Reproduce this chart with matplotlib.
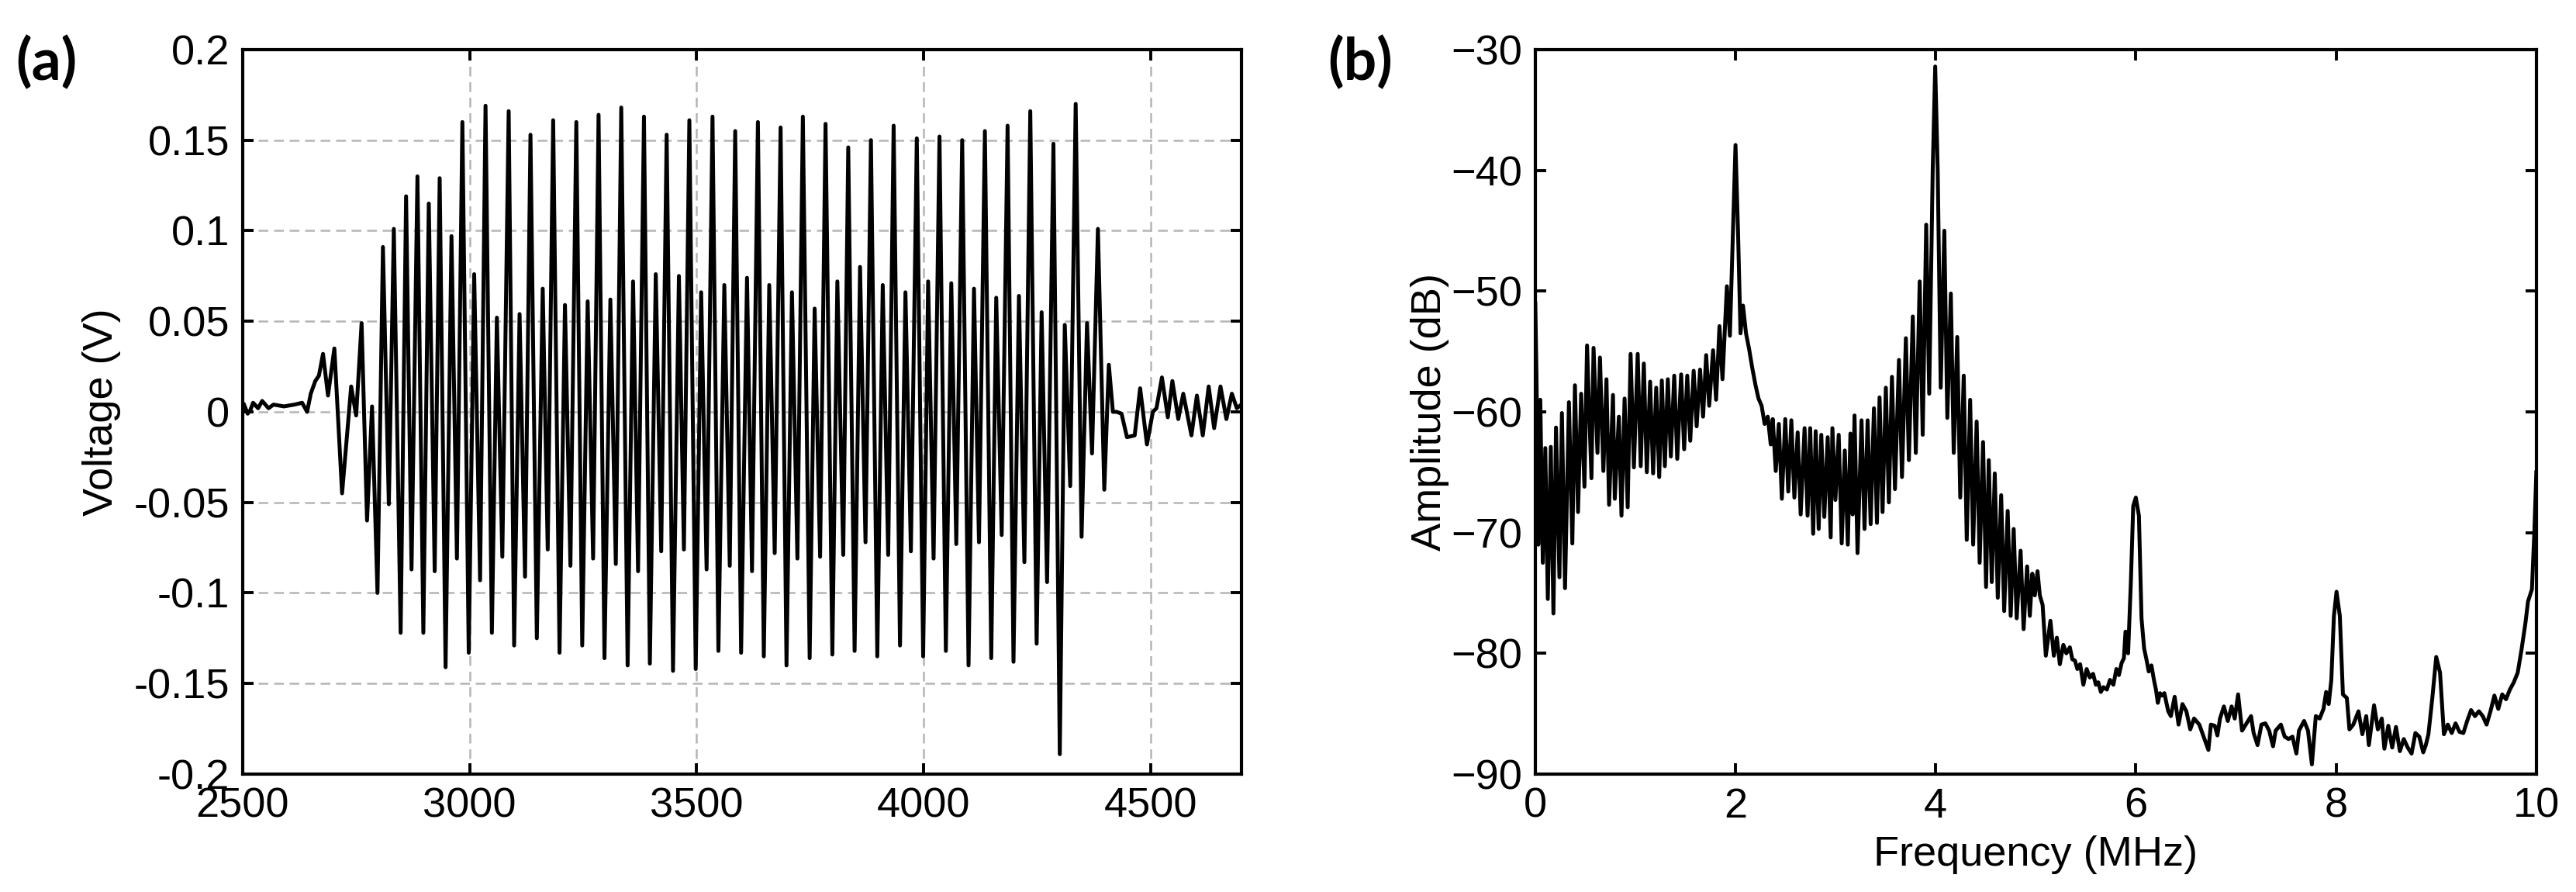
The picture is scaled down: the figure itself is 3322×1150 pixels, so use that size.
import matplotlib.pyplot as plt
import numpy as np

plt.rcParams['font.family'] = ['Liberation Sans', 'DejaVu Sans']

# (a) time trace, extrema (sample index, volts)
pre_t = [2503, 2511, 2517, 2523, 2534, 2543, 2557, 2568, 2591, 2614, 2631, 2642,
         2650, 2660, 2668, 2677, 2688, 2702, 2719, 2739, 2750, 2762, 2774, 2785]
pre_v = [0.004, -0.001, 0.001, 0.005, 0.002, 0.006, 0.002, 0.004, 0.003, 0.004, 0.005, 0.0,
         0.01, 0.017, 0.02, 0.032, 0.009, 0.035, -0.045, 0.014, -0.002, 0.049, -0.06, 0.003]

burst_t = [2797, 2809, 2822, 2833, 2848, 2860, 2872, 2885, 2898, 2910, 2923, 2934,
           2947, 2960, 2972, 2984, 2998, 3010, 3023, 3035, 3049, 3060, 3072, 3086,
           3098, 3110, 3122, 3134, 3148, 3161, 3172, 3184, 3198, 3210, 3222, 3235,
           3248, 3260, 3272, 3284, 3297, 3310, 3322, 3334, 3348, 3360, 3371, 3384,
           3397, 3410, 3422, 3434, 3448, 3461, 3472, 3484, 3498, 3510, 3522, 3535,
           3548, 3561, 3573, 3585, 3598, 3611, 3622, 3635, 3648, 3660, 3672, 3685,
           3698, 3710, 3722, 3734, 3749, 3760, 3772, 3784, 3799, 3810, 3823, 3834,
           3848, 3860, 3872, 3884, 3898, 3910, 3922, 3934, 3948, 3960, 3972, 3985,
           3999, 4010, 4022, 4035, 4049, 4061, 4072, 4085, 4099, 4111, 4122, 4135,
           4149, 4160, 4172, 4185, 4198, 4210, 4222, 4235, 4249, 4260, 4272, 4286,
           4300, 4311, 4323, 4335, 4348, 4360, 4371, 4384, 4398, 4408]
burst_v = [-0.1, 0.091, -0.051, 0.101, -0.122, 0.119, -0.087, 0.13, -0.122, 0.115, -0.088, 0.129,
           -0.141, 0.097, -0.081, 0.16, -0.133, 0.076, -0.093, 0.169, -0.122, 0.052, -0.08, 0.166,
           -0.129, 0.054, -0.091, 0.153, -0.125, 0.068, -0.076, 0.161, -0.133, 0.059, -0.085, 0.16,
           -0.129, 0.061, -0.081, 0.164, -0.136, 0.062, -0.084, 0.168, -0.14, 0.072, -0.088, 0.163,
           -0.139, 0.076, -0.077, 0.153, -0.143, 0.075, -0.076, 0.161, -0.142, 0.066, -0.087, 0.163,
           -0.132, 0.07, -0.085, 0.155, -0.133, 0.074, -0.088, 0.16, -0.135, 0.07, -0.078, 0.157,
           -0.14, 0.066, -0.081, 0.163, -0.136, 0.057, -0.08, 0.159, -0.134, 0.072, -0.079, 0.146,
           -0.132, 0.08, -0.072, 0.15, -0.135, 0.07, -0.079, 0.158, -0.129, 0.066, -0.077, 0.151,
           -0.135, 0.072, -0.081, 0.152, -0.132, 0.071, -0.073, 0.15, -0.14, 0.068, -0.072, 0.155,
           -0.136, 0.063, -0.068, 0.158, -0.138, 0.064, -0.083, 0.166, -0.128, 0.055, -0.094, 0.148,
           -0.189, 0.048, -0.041, 0.17, -0.069, 0.049, -0.023, 0.101, -0.043, 0.026]

tail_t = [4417, 4425, 4436, 4448, 4465, 4477, 4492, 4505, 4513, 4525, 4538, 4548,
          4561, 4572, 4590, 4602, 4615, 4628, 4640, 4654, 4667, 4679, 4690, 4700]
tail_v = [0.0, 0.0, -0.001, -0.014, -0.013, 0.013, -0.018, 0.0, 0.002, 0.019, -0.003, 0.017,
          -0.004, 0.01, -0.013, 0.009, -0.013, 0.014, -0.009, 0.014, -0.004, 0.01, 0.002, 0.004]

volt_ticks = [-0.2, -0.15, -0.1, -0.05, 0, 0.05, 0.1, 0.15, 0.2]
volt_labels = ['-0.2', '-0.15', '-0.1', '-0.05', '0', '0.05', '0.1', '0.15', '0.2']
time_ticks = [2500, 3000, 3500, 4000, 4500]

# (b) spectrum, fringe tops / notches (MHz, dB)
low_f = [0.0, 0.012, 0.03, 0.05, 0.075, 0.1, 0.125, 0.155, 0.181, 0.207, 0.241, 0.266,
         0.297, 0.336, 0.37, 0.396, 0.427, 0.458, 0.491, 0.517, 0.561, 0.582, 0.621, 0.646,
         0.68, 0.711, 0.737, 0.776, 0.794, 0.835, 0.861, 0.892, 0.923, 0.952, 0.985]
low_db = [-51, -57, -71, -59, -72.5, -63, -75.5, -62.9, -76.7, -61.3, -73.7, -60.1,
          -74.6, -59.2, -70.9, -57.8, -68.3, -58.5, -66.2, -54.5, -65.5, -54.7, -63.4, -55.5,
          -64.9, -57.3, -67.7, -58.6, -67.2, -60.4, -68.6, -58.9, -67.9, -55.2, -64.6]

mid_f = [1.023, 1.053, 1.084, 1.114, 1.147, 1.177, 1.208, 1.238, 1.264, 1.294, 1.324, 1.354,
         1.388, 1.418, 1.457, 1.487, 1.518, 1.548, 1.582, 1.612, 1.646, 1.676, 1.707, 1.737,
         1.776, 1.806, 1.84, 1.87, 1.914, 1.944, 1.975, 2.0, 2.025, 2.05, 2.075, 2.105,
         2.136, 2.166, 2.2, 2.23, 2.261, 2.291, 2.322, 2.352, 2.372, 2.402, 2.433, 2.463,
         2.497, 2.527, 2.558, 2.588, 2.621, 2.651, 2.69, 2.72, 2.746, 2.776, 2.801, 2.831,
         2.857, 2.887, 2.921, 2.951, 2.968, 2.998, 3.031, 3.061, 3.092, 3.122, 3.148, 3.17,
         3.189, 3.219, 3.259, 3.289, 3.32, 3.35, 3.383, 3.413, 3.439, 3.469, 3.502, 3.532,
         3.563, 3.593, 3.633, 3.663, 3.702, 3.732, 3.771, 3.801, 3.84, 3.87]
mid_db = [-55.2, -64.5, -56, -65, -57.5, -65.1, -58, -65.4, -57.4, -64.5, -57.3, -63.7,
          -57, -63.9, -56.9, -63.1, -57, -62.4, -56.6, -61.2, -56.5, -60.4, -55.3, -59.5,
          -54.9, -59, -52.9, -57.3, -49.6, -53.7, -45, -37.9, -45, -53.5, -51.2, -53.5,
          -54.8, -56.3, -57.8, -58.9, -59.5, -61, -60.4, -62.7, -60.6, -64.9, -61, -67.2,
          -60.6, -66.6, -60.7, -67.1, -61.7, -68.5, -61.35, -68.6, -61.35, -70.1, -61.6, -69.7,
          -61.9, -68.7, -62.1, -70.4, -61.35, -67.3, -61.9, -70.9, -63.2, -71, -61.8, -68.5,
          -60.3, -71.7, -60.7, -69.7, -60.7, -69.3, -59.7, -69.2, -58.8, -68.3, -58, -67.5,
          -57.1, -66.4, -55.7, -65.4, -53.9, -64, -52.1, -63.4, -49.2, -61.9]

peak4_f = [3.905, 3.935, 3.97, 3.995, 4.02, 4.05, 4.086, 4.116, 4.151, 4.18,
           4.215, 4.245, 4.28, 4.31, 4.344, 4.374, 4.409, 4.439, 4.473, 4.503,
           4.53, 4.56, 4.59, 4.62, 4.654, 4.684, 4.719, 4.749, 4.779, 4.809,
           4.848, 4.878, 4.913, 4.94, 4.965, 4.99, 5.017, 5.04, 5.068, 5.1,
           5.146, 5.18, 5.21, 5.24, 5.275, 5.305, 5.34, 5.365, 5.391, 5.415,
           5.443, 5.475, 5.508, 5.54, 5.572, 5.6, 5.624, 5.65, 5.676, 5.71,
           5.741, 5.775, 5.805, 5.83, 5.857, 5.88, 5.896, 5.922, 5.95, 5.973,
           5.999, 6.03, 6.056, 6.082, 6.105, 6.128, 6.155, 6.18, 6.2, 6.219,
           6.24, 6.258]
peak4_db = [-44.5, -58.5, -40, -31.4, -40, -58, -45, -60.5, -50.2, -63.4,
            -53.8, -67.1, -57, -70.6, -59, -71, -60.8, -72.5, -62.5, -74.5,
            -64, -74.1, -65.1, -75.4, -66.9, -76.5, -68.2, -76.9, -69.7, -77.1,
            -71.5, -78, -72.8, -76.9, -73.4, -75.2, -73.2, -75.2, -76, -80.2,
            -77.3, -80.2, -78.7, -80.9, -79.3, -80, -79.5, -80.5, -80.6, -81.3,
            -80.9, -82.6, -81.3, -82, -81.7, -82.6, -82.4, -83.2, -82.8, -83,
            -82.2, -82.6, -81.3, -81.8, -80.8, -80.4, -78.2, -80, -74, -67.8,
            -67.1, -68.6, -77.1, -79.6, -80.5, -81.5, -81, -82.2, -83, -84.1,
            -83.3, -83.5]

high_f = [6.284, 6.323, 6.349, 6.387, 6.426, 6.465, 6.504, 6.543, 6.581, 6.633, 6.685, 6.724,
          6.749, 6.788, 6.814, 6.84, 6.879, 6.918, 6.956, 6.987, 7.021, 7.06, 7.098, 7.15,
          7.176, 7.215, 7.254, 7.293, 7.331, 7.37, 7.396, 7.448, 7.486, 7.525, 7.564, 7.603,
          7.629, 7.68, 7.719, 7.758, 7.797, 7.836, 7.874, 7.9, 7.926, 7.952, 7.978, 8.004,
          8.037, 8.068, 8.107, 8.133, 8.172, 8.223, 8.262, 8.301, 8.327, 8.379, 8.417, 8.456,
          8.482, 8.521, 8.56, 8.598, 8.637, 8.676, 8.715, 8.754, 8.792, 8.831, 8.87, 8.896,
          8.922, 8.961, 9.0, 9.038, 9.077, 9.116, 9.155, 9.193, 9.232, 9.271, 9.309, 9.348,
          9.387, 9.426, 9.465, 9.503, 9.542, 9.581, 9.62, 9.659, 9.697, 9.736, 9.775, 9.814,
          9.852, 9.891, 9.917, 9.956, 9.98, 10.0]
high_db = [-83.3, -84.8, -85.2, -83.6, -85.9, -84.2, -84.8, -86.3, -85.4, -85.9, -87.1, -88,
           -85.9, -86, -86.8, -85.4, -84.4, -85.6, -84.4, -85.4, -83.4, -86.4, -85.9, -85.2,
           -86.6, -87.6, -85.9, -85.8, -86.4, -87.7, -86.4, -85.9, -86.9, -87.1, -86.9, -88.3,
           -86.4, -85.6, -86.4, -89.2, -85.2, -85.4, -84.6, -83.2, -84.2, -82.2, -76.9, -74.9,
           -76.9, -83.4, -83.7, -86.3, -85.9, -84.8, -86.7, -85.2, -87.6, -84.3, -86.3, -85.4,
           -87.9, -86, -87.8, -86.1, -88.1, -87.1, -87.8, -88.3, -86.6, -86.9, -88.2, -87.6,
           -86.7, -83.7, -80.3, -81.6, -86.7, -85.9, -86.6, -85.8, -86.5, -86.6, -85.6, -84.7,
           -85.2, -84.8, -85.2, -85.9, -84.8, -83.5, -84.6, -83.4, -83.8, -83, -82.4, -81.6,
           -79.7, -77.5, -75.7, -74.7, -70, -65]

freq_ticks = [0, 2, 4, 6, 8, 10]
amp_ticks = [-90, -80, -70, -60, -50, -40, -30]

t = np.array(pre_t + burst_t + tail_t)
v = np.array(pre_v + burst_v + tail_v)
f = np.array(low_f + mid_f + peak4_f + high_f)
a = np.array(low_db + mid_db + peak4_db + high_db)

fig = plt.figure(figsize=(16.61, 5.75), dpi=200)
ax1 = fig.add_axes([0.0942, 0.1322, 0.3877, 0.8122])
ax2 = fig.add_axes([0.5960, 0.1322, 0.3886, 0.8122])

for ax in (ax1, ax2):
    for s in ax.spines.values():
        s.set_linewidth(1.5)
    ax.tick_params(direction='in', top=True, right=True, length=5, width=1.4,
                   labelsize=19.5, pad=6)

# panel (a)
ax1.plot(t, v, color='black', lw=1.8)
ax1.set_xlim(2500, 4700)
ax1.set_ylim(-0.2, 0.2)
ax1.set_xticks(time_ticks)
ax1.set_yticks(volt_ticks)
ax1.set_yticklabels(volt_labels)
ax1.grid(True, color='#b5b5b5', linestyle=(0, (5, 3)), linewidth=0.9)
ax1.set_axisbelow(True)
ax1.set_ylabel('Voltage (V)', fontsize=19.5)
ax1.yaxis.set_label_coords(-0.122, 0.5)

# panel (b)
ax2.plot(f, a, color='black', lw=1.8)
ax2.set_xlim(0, 10)
ax2.set_ylim(-90, -30)
ax2.set_xticks(freq_ticks)
ax2.set_yticks(amp_ticks)
ax2.set_xlabel('Frequency (MHz)', fontsize=19.5)
ax2.set_ylabel('Amplitude (dB)', fontsize=19.5)
ax2.xaxis.set_label_coords(0.5, -0.085)
ax2.yaxis.set_label_coords(-0.086, 0.5)

fig.text(0.006, 0.930, '(a)', fontsize=27, fontweight='bold', family=['Lato', 'DejaVu Sans'],
         va='center', ha='left')
fig.text(0.5155, 0.930, '(b)', fontsize=27, fontweight='bold', family=['Lato', 'DejaVu Sans'],
         va='center', ha='left')

fig.savefig('out.png', dpi=200)
